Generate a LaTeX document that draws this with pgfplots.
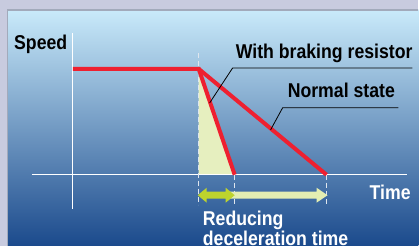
\documentclass[border=0pt]{standalone}
\usepackage{pgfplots}
\pgfplotsset{compat=1.18}
\usepackage{fontspec}
\setmainfont{Liberation Sans}
\definecolor{outerbg}{HTML}{C8CBDF}
\definecolor{borderc}{HTML}{A2AABB}
\definecolor{topc}{HTML}{C9EAFA}
\definecolor{midc}{HTML}{7B97C4}
\definecolor{botc}{HTML}{1B4A8C}
\definecolor{redc}{HTML}{EE2030}
\definecolor{fillc}{HTML}{E6EFBF}
\definecolor{greenc}{HTML}{BDD32D}
\definecolor{lightc}{HTML}{E3EEB2}
\definecolor{dashc}{HTML}{DFE6EE}
\newcommand{\lbl}[1]{\fontsize{20}{20}\selectfont\bfseries\scalebox{0.885}[1]{#1}}
\begin{document}
\begin{tikzpicture}
\begin{axis}[hide axis, scale only axis, width=419pt, height=246pt,
  xmin=0, xmax=419, ymin=0, ymax=246, y dir=reverse, clip=false]
% background
\fill[outerbg] (axis cs:0,0) rectangle (axis cs:419,246);
\fill[top color=topc, middle color=midc, bottom color=botc] (axis cs:7.5,10) rectangle (axis cs:419,246);
\draw[borderc, line width=1.2pt] (axis cs:7.5,246) -- (axis cs:7.5,10) -- (axis cs:419,10);
% filled reduction area
\addplot[fill=fillc, draw=none] coordinates {(199,69) (199,175) (235,175)} -- cycle;
% axes
\draw[white, line width=1.2pt] (axis cs:73,33) -- (axis cs:73,209);
\draw[white, line width=1.2pt] (axis cs:32,175) -- (axis cs:408,175);
% dashed guides
\draw[dashc, line width=1pt, dash pattern=on 5pt off 3pt] (axis cs:199,53) -- (axis cs:199,205);
\draw[dashc, line width=1pt, dash pattern=on 5pt off 3pt] (axis cs:235,175) -- (axis cs:235,204);
\draw[dashc, line width=1pt, dash pattern=on 5pt off 3pt] (axis cs:327,175) -- (axis cs:327,204);
% arrows
\fill[lightc] (axis cs:230,192) -- (axis cs:317,192) -- (axis cs:317,188) -- (axis cs:328,195.5) -- (axis cs:317,203) -- (axis cs:317,199) -- (axis cs:230,199) -- cycle;
\fill[greenc] (axis cs:198,195.5) -- (axis cs:207,188) -- (axis cs:207,192) -- (axis cs:226,192) -- (axis cs:226,188) -- (axis cs:235,195.5) -- (axis cs:226,203) -- (axis cs:226,199) -- (axis cs:207,199) -- (axis cs:207,203) -- cycle;
% speed curves
\addplot[redc, line width=4pt, line join=miter] coordinates {(73,69) (199,69) (235,175)};
\addplot[redc, line width=4pt] coordinates {(199,69) (327,175)};
% leader lines
\draw[black, line width=0.8pt] (axis cs:413,68) -- (axis cs:233,68) -- (axis cs:210,103);
\draw[black, line width=0.8pt] (axis cs:399,108) -- (axis cs:283,108) -- (axis cs:271,130);
% labels
\node[anchor=base west, inner sep=0pt] at (axis cs:14,49.5) {\lbl{Speed}};
\node[anchor=base west, inner sep=0pt] at (axis cs:236,58.5) {\lbl{With braking resistor}};
\node[anchor=base west, inner sep=0pt] at (axis cs:288,98) {\lbl{Normal state}};
\node[anchor=base west, inner sep=0pt, text=white] at (axis cs:370,200) {\lbl{Time}};
\node[anchor=base west, inner sep=0pt, text=white] at (axis cs:203,226) {\lbl{Reducing}};
\node[anchor=base west, inner sep=0pt, text=white] at (axis cs:203,246) {\lbl{deceleration time}};
\end{axis}
\end{tikzpicture}
\end{document}
